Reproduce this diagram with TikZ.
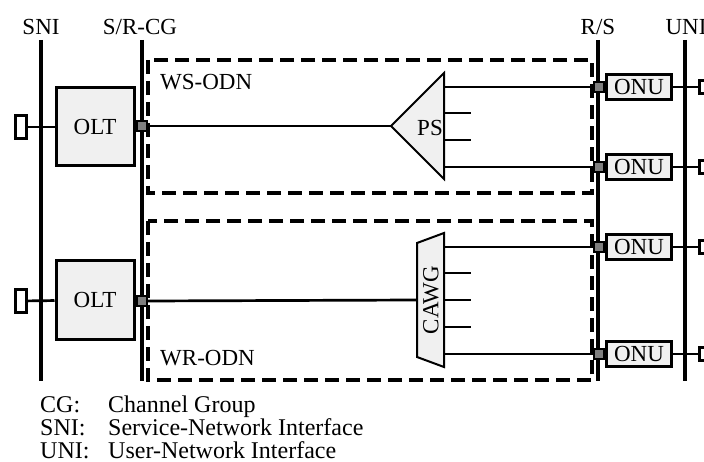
\documentclass[tikz,border=0pt]{standalone}
\usepackage{fontspec}
\setmainfont{Liberation Serif}
\usepackage{tikz}
\definecolor{odnfill}{RGB}{240,240,240}
\definecolor{portgray}{RGB}{128,128,128}

\begin{document}
\begin{tikzpicture}[x=1pt,y=-1pt,
  every node/.style={font=\fontsize{23}{27}\selectfont,inner sep=0pt},
  refline/.style={line width=3.4pt},
  fiber/.style={line width=2.7pt},
  olt/.style={draw,line width=3pt,fill=odnfill,minimum width=78pt,minimum height=78pt},
  onu/.style={draw,line width=3pt,fill=odnfill,minimum width=65pt,minimum height=25pt},
  port/.style={draw,line width=1.8pt,fill=portgray,minimum size=10.5pt},
  ifbox/.style={draw,line width=3pt,fill=white,minimum width=11pt,minimum height=23pt},
  odn/.style={line width=3.4pt,dash pattern=on 14pt off 7pt}]
  \clip (0,0) rectangle (704,462);
  % interface labels and reference lines
  \node[anchor=base] (snilbl) at (41,35) {SNI};
  \node[anchor=base] (srlbl) at (140,35) {S/R-CG};
  \node[anchor=base] (rslbl) at (598,35) {R/S};
  \node[anchor=base] (unilbl) at (686,35) {UNI};
  \foreach \x in {41,142,598,685}
    \draw[refline] (\x,40) -- (\x,381);
  % the two ODNs
  \draw[odn] (148,60) rectangle (592,193);
  \draw[odn] (148,221) rectangle (592,380);
  \node[anchor=base west] (wslbl) at (160,90) {WS-ODN};
  \node[anchor=base west] (wrlbl) at (160,365) {WR-ODN};
  % OLT side
  \node[olt] (olta) at (95,127) {OLT};
  \node[olt] (oltb) at (95,300) {OLT};
  \node[ifbox] (ifa) at (21,127) {};
  \node[ifbox] (ifb) at (21,301) {};
  \draw[fiber] (ifa) -- (olta);
  \draw[fiber] (ifb) -- (oltb);
  \node[port] (porta) at (142,126) {};
  \node[port] (portb) at (142,301) {};
  % ONU side
  \foreach \y/\n in {87/1,167/2,247/3,354/4} {
    \node[onu] (onu\n) at (639,\y) {ONU};
    \node[port] (onuport\n) at (599,\y) {};
    \node[draw,line width=3pt,fill=white,minimum width=12pt,minimum height=13pt] (uni\n) at (705,\y) {};
    \draw[fiber] (onu\n) -- (uni\n);
  }
  % power splitter
  \coordinate (psin) at (391,126);
  \draw[line width=2pt,fill=odnfill] (psin) -- (444,73) -- (444,179) -- cycle;
  \node (ps) at (430,128) {PS};
  \draw[fiber] (porta.east) -- (psin);
  \coordinate (psout1) at (444,87);
  \coordinate (psout2) at (444,167);
  \draw[fiber] (psout1) -- (onuport1.west);
  \draw[fiber] (psout2) -- (onuport2.west);
  \foreach \y in {113,140}
    \draw[fiber] (444,\y) -- ++(27,0);
  % cyclic AWG
  \coordinate (awgin) at (417,300);
  \draw[line width=2pt,fill=odnfill] (417,243) -- (444,233) -- (444,367) -- (417,357) -- cycle;
  \node[rotate=90] (awg) at (431,300) {CAWG};
  \draw[fiber] (portb.east) -- (awgin);
  \coordinate (awgout1) at (444,247);
  \coordinate (awgout2) at (444,354);
  \draw[fiber] (awgout1) -- (onuport3.west);
  \draw[fiber] (awgout2) -- (onuport4.west);
  \foreach \y in {273,300,327}
    \draw[fiber] (444,\y) -- ++(27,0);
  % legend
  \tikzset{every node/.style={font=\fontsize{24}{28}\selectfont,inner sep=0pt}}
  \node[anchor=base west] (cgkey) at (40,412) {CG:};
  \node[anchor=base west] (cgtxt) at (108,412) {Channel Group};
  \node[anchor=base west] (snikey) at (40,435) {SNI:};
  \node[anchor=base west] (snitxt) at (108,435) {Service-Network Interface};
  \node[anchor=base west] (unikey) at (40,458) {UNI:};
  \node[anchor=base west] (unitxt) at (108,458) {User-Network Interface};
\end{tikzpicture}
\end{document}
